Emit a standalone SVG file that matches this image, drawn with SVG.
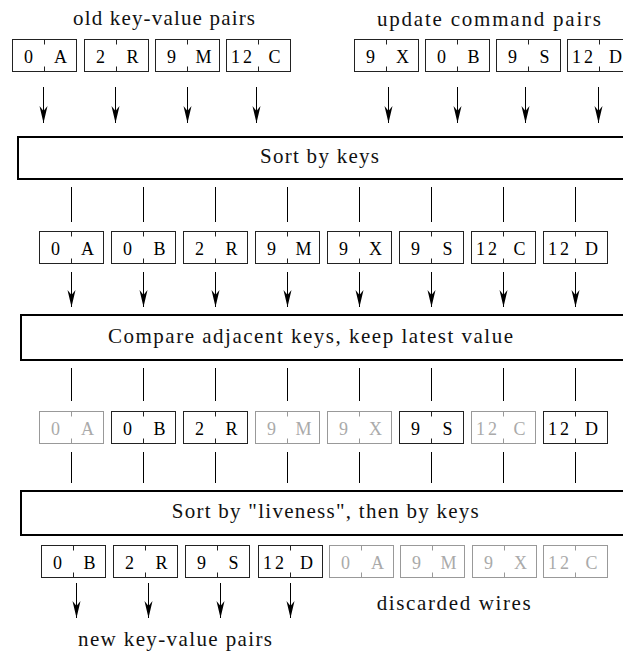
<svg xmlns="http://www.w3.org/2000/svg" width="623" height="654" viewBox="0 0 623 654">
  <style>
    .lbl { font-family: "Liberation Serif", "Times New Roman", serif; font-size: 21px; fill: #111; text-anchor: middle; }
    .kv { font-family: "Liberation Serif", "Times New Roman", serif; font-size: 18px; fill: #000; text-anchor: middle; }
    .cell { fill: #fff; stroke: #222; stroke-width: 1; }
    .tick { stroke: #222; stroke-width: 1; }
    .dead .kv { fill: #aaa; }
    .dead .cell, .dead .tick { stroke: #999; }
    .stage { fill: #fff; stroke: #000; stroke-width: 2; }
    .wire { stroke: #000; stroke-width: 1; fill: none; }
    .arrow { stroke: #000; stroke-width: 1; fill: none; marker-end: url(#head); }
  </style>
  <defs>
    <marker id="head" viewBox="0 -5 17 10" refX="17" refY="0" markerWidth="17" markerHeight="10" markerUnits="userSpaceOnUse" orient="auto">
      <path d="M0,-4 L17,0 L0,4 L5,0 Z" fill="#000"/>
    </marker>
  </defs>

  <rect width="623" height="654" fill="#fff"/>

  <!-- captions -->
  <text id="label-old" class="lbl" x="164" y="25" textLength="182" lengthAdjust="spacing">old key-value pairs</text>
  <text id="label-update" class="lbl" x="489" y="26" textLength="224" lengthAdjust="spacing">update command pairs</text>

  <!-- input pairs -->
  <g id="in-0A" transform="translate(12.5,39.5)"><rect class="cell" width="64" height="32"/><line class="tick" x1="32" y1="0" x2="32" y2="5"/><line class="tick" x1="32" y1="27" x2="32" y2="32"/><text class="kv" x="16" y="23">0</text><text class="kv" x="48" y="23">A</text></g>
  <g id="in-2R" transform="translate(84.5,39.5)"><rect class="cell" width="64" height="32"/><line class="tick" x1="32" y1="0" x2="32" y2="5"/><line class="tick" x1="32" y1="27" x2="32" y2="32"/><text class="kv" x="16" y="23">2</text><text class="kv" x="48" y="23">R</text></g>
  <g id="in-9M" transform="translate(155.5,39.5)"><rect class="cell" width="64" height="32"/><line class="tick" x1="32" y1="0" x2="32" y2="5"/><line class="tick" x1="32" y1="27" x2="32" y2="32"/><text class="kv" x="16" y="23">9</text><text class="kv" x="48" y="23">M</text></g>
  <g id="in-12C" transform="translate(226.5,39.5)"><rect class="cell" width="64" height="32"/><line class="tick" x1="32" y1="0" x2="32" y2="5"/><line class="tick" x1="32" y1="27" x2="32" y2="32"/><text class="kv" x="15" y="23" textLength="21" lengthAdjust="spacing">12</text><text class="kv" x="48" y="23">C</text></g>
  <g id="in-9X" transform="translate(354.5,39.5)"><rect class="cell" width="64" height="32"/><line class="tick" x1="32" y1="0" x2="32" y2="5"/><line class="tick" x1="32" y1="27" x2="32" y2="32"/><text class="kv" x="16" y="23">9</text><text class="kv" x="48" y="23">X</text></g>
  <g id="in-0B" transform="translate(425.5,39.5)"><rect class="cell" width="64" height="32"/><line class="tick" x1="32" y1="0" x2="32" y2="5"/><line class="tick" x1="32" y1="27" x2="32" y2="32"/><text class="kv" x="16" y="23">0</text><text class="kv" x="48" y="23">B</text></g>
  <g id="in-9S" transform="translate(496.5,39.5)"><rect class="cell" width="64" height="32"/><line class="tick" x1="32" y1="0" x2="32" y2="5"/><line class="tick" x1="32" y1="27" x2="32" y2="32"/><text class="kv" x="16" y="23">9</text><text class="kv" x="48" y="23">S</text></g>
  <g id="in-12D" transform="translate(567.5,39.5)"><rect class="cell" width="64" height="32"/><line class="tick" x1="32" y1="0" x2="32" y2="5"/><line class="tick" x1="32" y1="27" x2="32" y2="32"/><text class="kv" x="15" y="23" textLength="21" lengthAdjust="spacing">12</text><text class="kv" x="48" y="23">D</text></g>

  <!-- stage 1 -->
  <g id="sort-keys"><rect class="stage" x="18" y="137" width="640" height="42"/><text class="lbl" x="319.5" y="163" textLength="119" lengthAdjust="spacing">Sort by keys</text></g>

  <!-- sorted pairs -->
  <g id="s-0A" transform="translate(39.5,231.5)"><rect class="cell" width="64" height="32"/><line class="tick" x1="32" y1="0" x2="32" y2="5"/><line class="tick" x1="32" y1="27" x2="32" y2="32"/><text class="kv" x="16" y="23">0</text><text class="kv" x="48" y="23">A</text></g>
  <g id="s-0B" transform="translate(111.5,231.5)"><rect class="cell" width="64" height="32"/><line class="tick" x1="32" y1="0" x2="32" y2="5"/><line class="tick" x1="32" y1="27" x2="32" y2="32"/><text class="kv" x="16" y="23">0</text><text class="kv" x="48" y="23">B</text></g>
  <g id="s-2R" transform="translate(183.5,231.5)"><rect class="cell" width="64" height="32"/><line class="tick" x1="32" y1="0" x2="32" y2="5"/><line class="tick" x1="32" y1="27" x2="32" y2="32"/><text class="kv" x="16" y="23">2</text><text class="kv" x="48" y="23">R</text></g>
  <g id="s-9M" transform="translate(255.5,231.5)"><rect class="cell" width="64" height="32"/><line class="tick" x1="32" y1="0" x2="32" y2="5"/><line class="tick" x1="32" y1="27" x2="32" y2="32"/><text class="kv" x="16" y="23">9</text><text class="kv" x="48" y="23">M</text></g>
  <g id="s-9X" transform="translate(327.5,231.5)"><rect class="cell" width="64" height="32"/><line class="tick" x1="32" y1="0" x2="32" y2="5"/><line class="tick" x1="32" y1="27" x2="32" y2="32"/><text class="kv" x="16" y="23">9</text><text class="kv" x="48" y="23">X</text></g>
  <g id="s-9S" transform="translate(399.5,231.5)"><rect class="cell" width="64" height="32"/><line class="tick" x1="32" y1="0" x2="32" y2="5"/><line class="tick" x1="32" y1="27" x2="32" y2="32"/><text class="kv" x="16" y="23">9</text><text class="kv" x="48" y="23">S</text></g>
  <g id="s-12C" transform="translate(471.5,231.5)"><rect class="cell" width="64" height="32"/><line class="tick" x1="32" y1="0" x2="32" y2="5"/><line class="tick" x1="32" y1="27" x2="32" y2="32"/><text class="kv" x="15" y="23" textLength="21" lengthAdjust="spacing">12</text><text class="kv" x="48" y="23">C</text></g>
  <g id="s-12D" transform="translate(543.5,231.5)"><rect class="cell" width="64" height="32"/><line class="tick" x1="32" y1="0" x2="32" y2="5"/><line class="tick" x1="32" y1="27" x2="32" y2="32"/><text class="kv" x="15" y="23" textLength="21" lengthAdjust="spacing">12</text><text class="kv" x="48" y="23">D</text></g>

  <!-- stage 2 -->
  <g id="compare"><rect class="stage" x="21" y="315" width="640" height="45"/><text class="lbl" x="310.5" y="343" textLength="405" lengthAdjust="spacing">Compare adjacent keys, keep latest value</text></g>

  <!-- marked pairs -->
  <g id="m-0A" class="dead" transform="translate(39.5,411.5)"><rect class="cell" width="64" height="32"/><line class="tick" x1="32" y1="0" x2="32" y2="5"/><line class="tick" x1="32" y1="27" x2="32" y2="32"/><text class="kv" x="16" y="23">0</text><text class="kv" x="48" y="23">A</text></g>
  <g id="m-0B" transform="translate(111.5,411.5)"><rect class="cell" width="64" height="32"/><line class="tick" x1="32" y1="0" x2="32" y2="5"/><line class="tick" x1="32" y1="27" x2="32" y2="32"/><text class="kv" x="16" y="23">0</text><text class="kv" x="48" y="23">B</text></g>
  <g id="m-2R" transform="translate(183.5,411.5)"><rect class="cell" width="64" height="32"/><line class="tick" x1="32" y1="0" x2="32" y2="5"/><line class="tick" x1="32" y1="27" x2="32" y2="32"/><text class="kv" x="16" y="23">2</text><text class="kv" x="48" y="23">R</text></g>
  <g id="m-9M" class="dead" transform="translate(255.5,411.5)"><rect class="cell" width="64" height="32"/><line class="tick" x1="32" y1="0" x2="32" y2="5"/><line class="tick" x1="32" y1="27" x2="32" y2="32"/><text class="kv" x="16" y="23">9</text><text class="kv" x="48" y="23">M</text></g>
  <g id="m-9X" class="dead" transform="translate(327.5,411.5)"><rect class="cell" width="64" height="32"/><line class="tick" x1="32" y1="0" x2="32" y2="5"/><line class="tick" x1="32" y1="27" x2="32" y2="32"/><text class="kv" x="16" y="23">9</text><text class="kv" x="48" y="23">X</text></g>
  <g id="m-9S" transform="translate(399.5,411.5)"><rect class="cell" width="64" height="32"/><line class="tick" x1="32" y1="0" x2="32" y2="5"/><line class="tick" x1="32" y1="27" x2="32" y2="32"/><text class="kv" x="16" y="23">9</text><text class="kv" x="48" y="23">S</text></g>
  <g id="m-12C" class="dead" transform="translate(471.5,411.5)"><rect class="cell" width="64" height="32"/><line class="tick" x1="32" y1="0" x2="32" y2="5"/><line class="tick" x1="32" y1="27" x2="32" y2="32"/><text class="kv" x="15" y="23" textLength="21" lengthAdjust="spacing">12</text><text class="kv" x="48" y="23">C</text></g>
  <g id="m-12D" transform="translate(543.5,411.5)"><rect class="cell" width="64" height="32"/><line class="tick" x1="32" y1="0" x2="32" y2="5"/><line class="tick" x1="32" y1="27" x2="32" y2="32"/><text class="kv" x="15" y="23" textLength="21" lengthAdjust="spacing">12</text><text class="kv" x="48" y="23">D</text></g>

  <!-- stage 3 -->
  <g id="sort-liveness"><rect class="stage" x="21" y="491" width="640" height="44"/><text class="lbl" x="325.3" y="518" textLength="307" lengthAdjust="spacing">Sort by "liveness", then by keys</text></g>

  <!-- output pairs -->
  <g id="out-0B" transform="translate(41.5,545.5)"><rect class="cell" width="64" height="32"/><line class="tick" x1="32" y1="0" x2="32" y2="5"/><line class="tick" x1="32" y1="27" x2="32" y2="32"/><text class="kv" x="16" y="23">0</text><text class="kv" x="48" y="23">B</text></g>
  <g id="out-2R" transform="translate(113.5,545.5)"><rect class="cell" width="64" height="32"/><line class="tick" x1="32" y1="0" x2="32" y2="5"/><line class="tick" x1="32" y1="27" x2="32" y2="32"/><text class="kv" x="16" y="23">2</text><text class="kv" x="48" y="23">R</text></g>
  <g id="out-9S" transform="translate(185.5,545.5)"><rect class="cell" width="64" height="32"/><line class="tick" x1="32" y1="0" x2="32" y2="5"/><line class="tick" x1="32" y1="27" x2="32" y2="32"/><text class="kv" x="16" y="23">9</text><text class="kv" x="48" y="23">S</text></g>
  <g id="out-12D" transform="translate(258.5,545.5)"><rect class="cell" width="64" height="32"/><line class="tick" x1="32" y1="0" x2="32" y2="5"/><line class="tick" x1="32" y1="27" x2="32" y2="32"/><text class="kv" x="15" y="23" textLength="21" lengthAdjust="spacing">12</text><text class="kv" x="48" y="23">D</text></g>
  <g id="out-0A" class="dead" transform="translate(329.5,545.5)"><rect class="cell" width="64" height="32"/><line class="tick" x1="32" y1="0" x2="32" y2="5"/><line class="tick" x1="32" y1="27" x2="32" y2="32"/><text class="kv" x="16" y="23">0</text><text class="kv" x="48" y="23">A</text></g>
  <g id="out-9M" class="dead" transform="translate(400.5,545.5)"><rect class="cell" width="64" height="32"/><line class="tick" x1="32" y1="0" x2="32" y2="5"/><line class="tick" x1="32" y1="27" x2="32" y2="32"/><text class="kv" x="16" y="23">9</text><text class="kv" x="48" y="23">M</text></g>
  <g id="out-9X" class="dead" transform="translate(472.5,545.5)"><rect class="cell" width="64" height="32"/><line class="tick" x1="32" y1="0" x2="32" y2="5"/><line class="tick" x1="32" y1="27" x2="32" y2="32"/><text class="kv" x="16" y="23">9</text><text class="kv" x="48" y="23">X</text></g>
  <g id="out-12C" class="dead" transform="translate(543.5,545.5)"><rect class="cell" width="64" height="32"/><line class="tick" x1="32" y1="0" x2="32" y2="5"/><line class="tick" x1="32" y1="27" x2="32" y2="32"/><text class="kv" x="15" y="23" textLength="21" lengthAdjust="spacing">12</text><text class="kv" x="48" y="23">C</text></g>

  <text id="label-new" class="lbl" x="175" y="646" textLength="194" lengthAdjust="spacing">new key-value pairs</text>
  <text id="label-discarded" class="lbl" x="453.7" y="610" textLength="154" lengthAdjust="spacing">discarded wires</text>

  <!-- connectors -->
  <g id="connectors">
    <line class="arrow" x1="43.5" y1="87" x2="43.5" y2="123"/>
    <line class="arrow" x1="115.5" y1="87" x2="115.5" y2="123"/>
    <line class="arrow" x1="187.5" y1="87" x2="187.5" y2="123"/>
    <line class="arrow" x1="256.5" y1="87" x2="256.5" y2="123"/>
    <line class="arrow" x1="388.5" y1="87" x2="388.5" y2="123"/>
    <line class="arrow" x1="457.5" y1="87" x2="457.5" y2="123"/>
    <line class="arrow" x1="525.5" y1="87" x2="525.5" y2="123"/>
    <line class="arrow" x1="598.5" y1="87" x2="598.5" y2="123"/>

    <line class="wire" x1="71.5" y1="187" x2="71.5" y2="222"/>
    <line class="wire" x1="143.5" y1="187" x2="143.5" y2="222"/>
    <line class="wire" x1="215.5" y1="187" x2="215.5" y2="222"/>
    <line class="wire" x1="287.5" y1="187" x2="287.5" y2="222"/>
    <line class="wire" x1="359.5" y1="187" x2="359.5" y2="222"/>
    <line class="wire" x1="431.5" y1="187" x2="431.5" y2="222"/>
    <line class="wire" x1="503.5" y1="187" x2="503.5" y2="222"/>
    <line class="wire" x1="575.5" y1="187" x2="575.5" y2="222"/>

    <line class="arrow" x1="71.5" y1="272" x2="71.5" y2="307"/>
    <line class="arrow" x1="143.5" y1="272" x2="143.5" y2="307"/>
    <line class="arrow" x1="215.5" y1="272" x2="215.5" y2="307"/>
    <line class="arrow" x1="287.5" y1="272" x2="287.5" y2="307"/>
    <line class="arrow" x1="359.5" y1="272" x2="359.5" y2="307"/>
    <line class="arrow" x1="431.5" y1="272" x2="431.5" y2="307"/>
    <line class="arrow" x1="503.5" y1="272" x2="503.5" y2="307"/>
    <line class="arrow" x1="575.5" y1="272" x2="575.5" y2="307"/>

    <line class="wire" x1="71.5" y1="368" x2="71.5" y2="401"/>
    <line class="wire" x1="143.5" y1="368" x2="143.5" y2="401"/>
    <line class="wire" x1="215.5" y1="368" x2="215.5" y2="401"/>
    <line class="wire" x1="287.5" y1="368" x2="287.5" y2="401"/>
    <line class="wire" x1="359.5" y1="368" x2="359.5" y2="401"/>
    <line class="wire" x1="431.5" y1="368" x2="431.5" y2="401"/>
    <line class="wire" x1="503.5" y1="368" x2="503.5" y2="401"/>
    <line class="wire" x1="575.5" y1="368" x2="575.5" y2="401"/>

    <line class="wire" x1="71.5" y1="452" x2="71.5" y2="483"/>
    <line class="wire" x1="143.5" y1="452" x2="143.5" y2="483"/>
    <line class="wire" x1="215.5" y1="452" x2="215.5" y2="483"/>
    <line class="wire" x1="287.5" y1="452" x2="287.5" y2="483"/>
    <line class="wire" x1="359.5" y1="452" x2="359.5" y2="483"/>
    <line class="wire" x1="431.5" y1="452" x2="431.5" y2="483"/>
    <line class="wire" x1="503.5" y1="452" x2="503.5" y2="483"/>
    <line class="wire" x1="575.5" y1="452" x2="575.5" y2="483"/>

    <line class="arrow" x1="76.5" y1="583" x2="76.5" y2="618"/>
    <line class="arrow" x1="148.5" y1="583" x2="148.5" y2="618"/>
    <line class="arrow" x1="220.5" y1="583" x2="220.5" y2="618"/>
    <line class="arrow" x1="290.5" y1="583" x2="290.5" y2="618"/>
  </g>
</svg>
